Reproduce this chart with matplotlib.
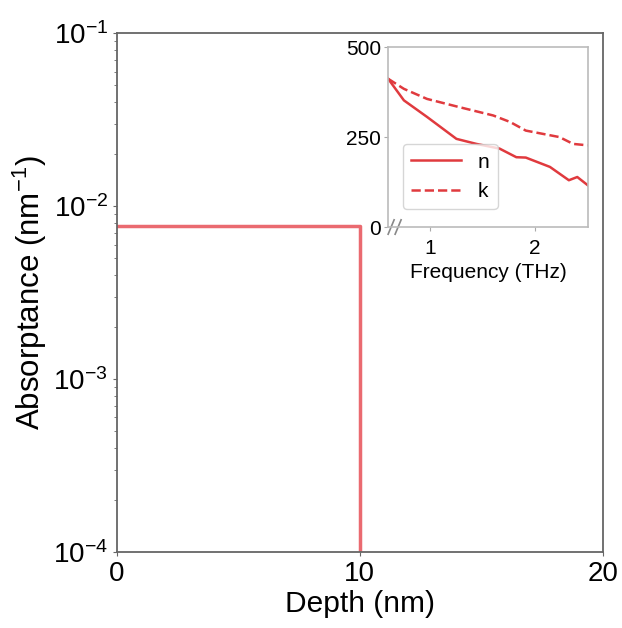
import numpy as np
import matplotlib.pyplot as plt

plt.rcParams['font.family'] = ['Liberation Sans', 'DejaVu Sans']
plt.rcParams['mathtext.fontset'] = 'custom'
plt.rcParams['mathtext.rm'] = 'Liberation Sans'
plt.rcParams['mathtext.it'] = 'Liberation Sans:italic'
plt.rcParams['mathtext.bf'] = 'Liberation Sans:bold'

# Absorptance profile: uniform inside a 10 nm film, zero beyond
depth = [0, 10, 10]
absorptance = [7.7e-3, 7.7e-3, 1e-5]

# Inset: optical constants vs frequency
freq_n = [0.6, 0.75, 0.97, 1.25, 1.44, 1.66, 1.82, 1.91, 2.14, 2.32, 2.40, 2.5]
n_vals = [412, 352, 306, 245, 231, 218, 194, 193, 167, 130, 139, 116]
freq_k = [0.6, 0.75, 0.97, 1.28, 1.6, 1.76, 1.91, 2.23, 2.36, 2.5]
k_vals = [412, 384, 356, 333, 310, 292, 268, 250, 231, 227]

fig = plt.figure(figsize=(6.22, 6.28), dpi=100)
ax = fig.add_axes([0.188, 0.121, 0.781, 0.826])
ax.plot(depth, absorptance, color='#ea6a70', lw=2.5)
ax.set_yscale('log')
ax.set_ylim(1e-4, 1e-1)
ax.set_xlim(0, 20)
ax.set_xticks([0, 10, 20])
ax.set_xlabel('Depth (nm)', fontsize=21.5, labelpad=2)
ax.set_ylabel('Absorptance (nm$^{-1}$)', fontsize=22.5, labelpad=3)
ax.tick_params(labelsize=20, length=3, color='#666666')
ax.tick_params(which='minor', length=2, color='#666666')
for s in ax.spines.values():
    s.set_color('#666666')
    s.set_linewidth(1.3)

ins = fig.add_axes([0.624, 0.6385, 0.321, 0.2865])
ins.plot(freq_n, n_vals, color='#e03a3e', lw=1.8, label='n')
ins.plot(freq_k, k_vals, color='#e03a3e', lw=1.8, ls='--', label='k')
ins.set_xlim(0.6, 2.5)
ins.set_ylim(0, 500)
ins.set_xticks([1, 2])
ins.set_yticks([0, 250, 500])
ins.set_xlabel('Frequency (THz)', fontsize=15, labelpad=3.5)
ins.tick_params(labelsize=15, length=3, color='#aaaaaa', pad=2)
ins.tick_params(axis='x', pad=5.5)
for s in ins.spines.values():
    s.set_color('#bbbbbb')
    s.set_linewidth(1.2)
ins.legend(loc='lower left', fontsize=15, handlelength=2.4,
           bbox_to_anchor=(0.02, 0.04), edgecolor='#cccccc')

# axis-break marks at the inset's origin
for dx in (0.0, 0.035):
    ins.plot([0.0 + dx, 0.03 + dx], [-0.04, 0.04], transform=ins.transAxes,
             color='#888888', lw=1.2, clip_on=False)

fig.savefig('out.png', dpi=100)
